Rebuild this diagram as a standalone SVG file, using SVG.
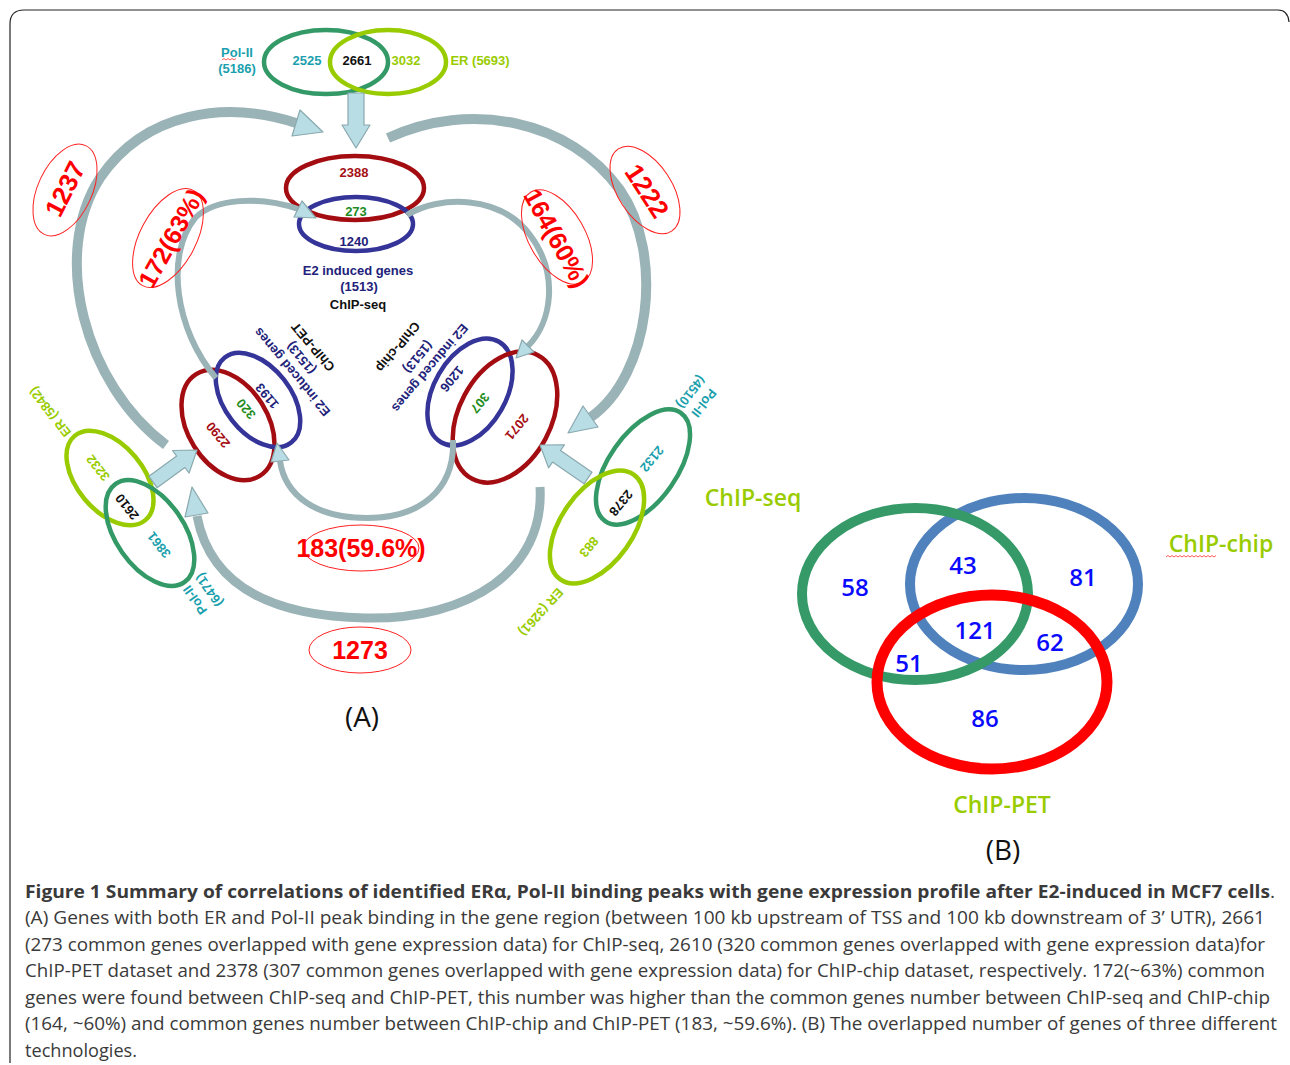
<svg xmlns="http://www.w3.org/2000/svg" width="1290" height="1065" viewBox="0 0 1290 1065">
<defs>
<style>
.a{font-family:"Liberation Sans",Arial,sans-serif;font-weight:bold;font-size:13px;text-anchor:middle}
.teal{fill:#1b9fae}.yg{fill:#99cc00}.dr{fill:#a50f15}.nv{fill:#22227a}.gr{fill:#1e8c1e}.bk{fill:#111}
.ring{fill:none;stroke-width:4.5}
.pg{stroke:#339966}.pe{stroke:#99cc00}.pr{stroke:#a30d12}.pb{stroke:#343499}
.lab{fill:none;stroke:#ff2020;stroke-width:1}
.lt{font-family:"Liberation Sans",Arial,sans-serif;font-weight:bold;fill:#ff0000;text-anchor:middle}
.arc{fill:none;stroke:#9ab3b7}
.head{fill:#b8dde5;stroke:#89a9ae;stroke-width:1.2;stroke-linejoin:round}
.b{font-family:"Open Sans","Liberation Sans",sans-serif;text-anchor:middle}
.num{font-weight:600;font-size:24px;fill:#0a0aff}
.vl{font-weight:600;font-size:23px;fill:#99cc00}
.cap{font-family:"Open Sans","Liberation Sans",sans-serif;font-size:18.5px;fill:#3a3a3a}
.spell{fill:none;stroke:#ff3030;stroke-width:0.8}
</style>
</defs>
<rect width="1290" height="1065" fill="#ffffff"/>
<path d="M10,1063 V24 Q10,10 24,10 H1278 Q1288,10 1289,22" fill="none" stroke="#222" stroke-width="1.2"/>

<g id="venn-chipseq-polii-er">
<ellipse class="ring pg" cx="326" cy="62" rx="62" ry="32"/>
<ellipse class="ring pe" cx="388" cy="62" rx="58" ry="32"/>
<text class="a teal" x="237" y="57">Pol-II</text>
<text class="a teal" x="237" y="73">(5186)</text>
<path class="spell" d="M222,60 l2,-1.5 l2,1.5 l2,-1.5 l2,1.5 l2,-1.5 l2,1.5 l2,-1.5"/>
<text class="a teal" x="307" y="65">2525</text>
<text class="a bk" x="357" y="65" font-size="15">2661</text>
<text class="a yg" x="406" y="65">3032</text>
<text class="a yg" x="480" y="65" font-size="12.5">ER (5693)</text>
</g>

<g id="venn-chipseq-expr">
<ellipse class="ring pr" cx="355" cy="188" rx="69" ry="32"/>
<ellipse class="ring pb" cx="356" cy="224" rx="57" ry="27"/>
<text class="a dr" x="354" y="177" font-size="12.5">2388</text>
<text class="a gr" x="356" y="216" font-size="12.5">273</text>
<text class="a nv" x="354" y="246" font-size="12.5">1240</text>
<text class="a nv" x="358" y="275" font-size="13.5">E2 induced genes</text>
<text class="a nv" x="359" y="291">(1513)</text>
<text class="a bk" x="358" y="309">ChIP-seq</text>
</g>

<g id="venn-chippet-expr">
<ellipse class="ring pr" transform="translate(228,425) rotate(58)" rx="60" ry="40"/>
<ellipse class="ring pb" transform="translate(258,400) rotate(52)" rx="54" ry="33"/>
<text class="a nv" transform="translate(267,396) rotate(-130)" y="4.5">1193</text>
<text class="a gr" transform="translate(246,409) rotate(-130)" y="4.5">320</text>
<text class="a dr" transform="translate(218,435) rotate(-130)" y="4.5">2290</text>
<text class="a nv" transform="translate(292,372) rotate(-130)" y="4.5">E2 induced genes</text>
<text class="a nv" transform="translate(301,358) rotate(-130)" y="4.5">(1513)</text>
<text class="a bk" transform="translate(313,347) rotate(-130)" y="4.5">ChIP-PET</text>
</g>

<g id="venn-chipchip-expr">
<ellipse class="ring pb" transform="translate(470,392) rotate(-60)" rx="58" ry="36"/>
<ellipse class="ring pr" transform="translate(505,417) rotate(-62)" rx="70" ry="46"/>
<text class="a nv" transform="translate(452,379) rotate(130)" y="4.5">1206</text>
<text class="a gr" transform="translate(480,403) rotate(130)" y="4.5">307</text>
<text class="a dr" transform="translate(517,427) rotate(130)" y="4.5">2071</text>
<text class="a nv" transform="translate(430,368) rotate(130)" y="4.5">E2 induced genes</text>
<text class="a nv" transform="translate(418,357) rotate(130)" y="4.5">(1513)</text>
<text class="a bk" transform="translate(398,347) rotate(130)" y="4.5">ChIP-chip</text>
</g>

<g id="venn-chippet-polii-er">
<ellipse class="ring pe" transform="translate(110,478) rotate(50)" rx="55" ry="33"/>
<ellipse class="ring pg" transform="translate(150,533) rotate(55)" rx="60" ry="34"/>
<text class="a yg" transform="translate(50,412) rotate(-128)" y="4.5" font-size="12">ER (5842)</text>
<text class="a yg" transform="translate(98,468) rotate(-128)" y="4.5" font-size="12">3232</text>
<text class="a bk" transform="translate(127,507) rotate(-128)" y="4.5" font-size="12.5">2610</text>
<text class="a teal" transform="translate(159,545) rotate(-128)" y="4.5" font-size="12">3861</text>
<text class="a teal" transform="translate(195,600) rotate(-125)" y="4.5" font-size="12">Pol-II</text>
<text class="a teal" transform="translate(209,590) rotate(-125)" y="4.5" font-size="12">(6471)</text>
</g>

<g id="venn-chipchip-polii-er">
<ellipse class="ring pg" transform="translate(643,467) rotate(-55)" rx="66" ry="34"/>
<ellipse class="ring pe" transform="translate(597,527) rotate(-55)" rx="64" ry="36"/>
<text class="a teal" transform="translate(704,403) rotate(128)" y="4.5" font-size="12">Pol-II</text>
<text class="a teal" transform="translate(691,392) rotate(128)" y="4.5" font-size="12">(4510)</text>
<text class="a teal" transform="translate(652,459) rotate(130)" y="4.5" font-size="12">2132</text>
<text class="a bk" transform="translate(621,503) rotate(130)" y="4.5" font-size="12.5">2378</text>
<text class="a yg" transform="translate(589,547) rotate(130)" y="4.5" font-size="12">883</text>
<text class="a yg" transform="translate(541,612) rotate(132)" y="4.5" font-size="12">ER (3261)</text>
</g>

<g id="connectors">
<polygon class="head" points="348,93 364,93 364,125 370,125 356,148 342,125 348,125"/>
<polygon class="head" points="148.9,476.3 176.7,456.1 172.5,450.5 197,450 189.1,473.1 184.9,467.5 157.1,487.7"/>
<polygon class="head" points="592,472.2 560.5,450.5 564.4,444.8 540,445 548.6,467.9 552.5,462.1 584,483.8"/>
<path class="arc" stroke-width="10" d="M166,445 C85,385 50,255 100,178 C145,112 225,100 296,123"/>
<polygon class="head" points="300,110 323,132 292,136"/>
<path class="arc" stroke-width="10" d="M388,138 C470,100 570,120 620,190 C665,255 650,375 591,417"/>
<polygon class="head" points="583,406 568,433 598,427"/>
<path class="arc" stroke-width="9" d="M540,487 C545,570 470,620 365,618 C270,616 210,585 197,516"/>
<polygon class="head" points="208,513 192,487 185,517"/>
<path class="arc" stroke-width="6" d="M216,378 C175,330 165,255 195,218 C215,198 260,196 298,209"/>
<polygon class="head" points="302,201 316,218 294,217"/>
<path class="arc" stroke-width="6" d="M407,215 C440,195 500,195 530,235 C560,275 551,323 528,346"/>
<polygon class="head" points="522,340 516,358 534,352"/>
<path class="arc" stroke-width="6" d="M453,440 C455,490 420,518 367,518 C315,518 285,495 280,461"/>
<polygon class="head" points="289,460 277,443 271,462"/>
</g>

<g id="labels-a">
<ellipse class="lab" transform="translate(65,190) rotate(25)" rx="27" ry="49"/>
<text class="lt" transform="translate(65,189) rotate(-63)" y="9" font-size="26">1237</text>
<ellipse class="lab" transform="translate(168,238) rotate(28)" rx="28" ry="54"/>
<text class="lt" transform="translate(171,238) rotate(-61)" y="9" font-size="25">172(63%)</text>
<ellipse class="lab" transform="translate(557,237) rotate(-30)" rx="28" ry="52"/>
<text class="lt" transform="translate(557,238) rotate(61)" y="9" font-size="25">164(60%)</text>
<ellipse class="lab" transform="translate(645,190) rotate(-33)" rx="27" ry="49"/>
<text class="lt" transform="translate(647,191) rotate(57)" y="9" font-size="26">1222</text>
<ellipse class="lab" cx="361" cy="548" rx="58" ry="23"/>
<text class="lt" x="361" y="557" font-size="25">183(59.6%)</text>
<ellipse class="lab" cx="360" cy="650" rx="51" ry="23"/>
<text class="lt" x="360" y="659" font-size="25">1273</text>
<text class="b" x="362" y="727" font-size="28" fill="#111">(A)</text>
</g>

<g id="venn-b">
<ellipse cx="1024" cy="584" rx="114" ry="86" fill="none" stroke="#4f81bd" stroke-width="10"/>
<ellipse cx="915" cy="594" rx="113" ry="86" fill="none" stroke="#359a68" stroke-width="10"/>
<ellipse cx="992" cy="682" rx="115" ry="87" fill="none" stroke="#ff0000" stroke-width="11"/>
<text class="b num" x="855" y="596">58</text>
<text class="b num" x="963" y="574">43</text>
<text class="b num" x="1083" y="586">81</text>
<text class="b num" x="975" y="639">121</text>
<text class="b num" x="1050" y="651">62</text>
<text class="b num" x="909" y="672">51</text>
<text class="b num" x="985" y="727">86</text>
<text class="b vl" x="753" y="506">ChIP-seq</text>
<text class="b vl" x="1221" y="552">ChIP-chip</text>
<path class="spell" d="M1166,557 l2,-1.5 l2,1.5 l2,-1.5 l2,1.5 l2,-1.5 l2,1.5 l2,-1.5 l2,1.5 l2,-1.5 l2,1.5 l2,-1.5 l2,1.5 l2,-1.5 l2,1.5 l2,-1.5 l2,1.5 l2,-1.5 l2,1.5 l2,-1.5 l2,1.5 l2,-1.5 l2,1.5 l2,-1.5 l2,1.5 l2,-1.5"/>
<text class="b vl" x="1002" y="813">ChIP-PET</text>
<text class="b" x="1003" y="860" font-size="28" fill="#111">(B)</text>
</g>

<g id="caption">
<text class="cap" x="25" y="898" font-weight="bold" fill="#111" textLength="1250" lengthAdjust="spacingAndGlyphs">Figure 1 Summary of correlations of identified ERα, Pol-II binding peaks with gene expression profile after E2-induced in MCF7 cells<tspan font-weight="normal">.</tspan></text>
<text class="cap" x="25" y="924" textLength="1240" lengthAdjust="spacingAndGlyphs">(A) Genes with both ER and Pol-II peak binding in the gene region (between 100 kb upstream of TSS and 100 kb downstream of 3’ UTR), 2661</text>
<text class="cap" x="25" y="951" textLength="1240" lengthAdjust="spacingAndGlyphs">(273 common genes overlapped with gene expression data) for ChIP-seq, 2610 (320 common genes overlapped with gene expression data)for</text>
<text class="cap" x="25" y="977" textLength="1240" lengthAdjust="spacingAndGlyphs">ChIP-PET dataset and 2378 (307 common genes overlapped with gene expression data) for ChIP-chip dataset, respectively. 172(~63%) common</text>
<text class="cap" x="25" y="1004" textLength="1245" lengthAdjust="spacingAndGlyphs">genes were found between ChIP-seq and ChIP-PET, this number was higher than the common genes number between ChIP-seq and ChIP-chip</text>
<text class="cap" x="25" y="1030" textLength="1252" lengthAdjust="spacingAndGlyphs">(164, ~60%) and common genes number between ChIP-chip and ChIP-PET (183, ~59.6%). (B) The overlapped number of genes of three different</text>
<text class="cap" x="25" y="1057" textLength="112" lengthAdjust="spacingAndGlyphs">technologies.</text>
</g>
</svg>
